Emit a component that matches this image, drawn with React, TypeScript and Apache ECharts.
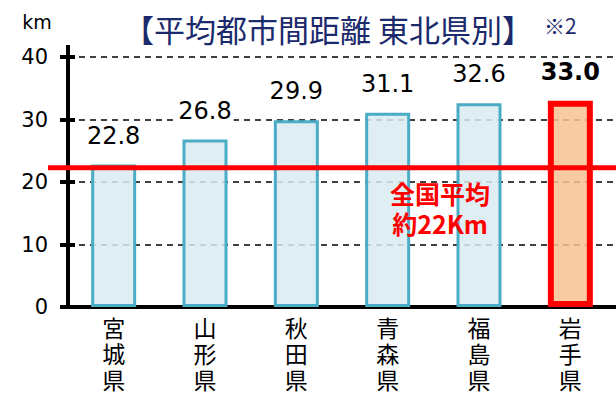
import React, { useEffect, useRef } from "react";
import * as echarts from "echarts";

const categories = ["宮城県", "山形県", "秋田県", "青森県", "福島県", "岩手県"];
const distances = [22.8, 26.8, 29.9, 31.1, 32.6, 33.0];
const highlightIndex = 5;
const nationalAverage = 22.3;
const yMin = 0;
const yMax = 40;
const yInterval = 10;
const titleText = "【平均都市間距離 東北県別】";
const noteText = "※2";
const unitText = "km";
const averageText = "全国平均\n約22Km";

const NUM_FONT = "'DejaVu Sans', sans-serif";
const JP_FONT = "'Noto Sans CJK JP', sans-serif";

export default function App() {
  const ref = useRef<HTMLDivElement>(null);

  useEffect(() => {
    if (!ref.current) return;
    const chart = echarts.init(ref.current, undefined, { renderer: "svg" });

    const barData = distances.map((v, i) => {
      if (i === highlightIndex) {
        return {
          value: v,
          itemStyle: {
            color: "rgba(248,194,147,0.85)",
            borderColor: "#FF0000",
            borderWidth: 6,
          },
          label: { fontWeight: "bold" as const },
        };
      }
      return v;
    });

    const yCommon = {
      type: "value" as const,
      min: yMin,
      max: yMax,
      interval: yInterval,
      position: "left" as const,
    };

    chart.setOption({
      animation: false,
      grid: { left: 68, top: 57, width: 558, height: 250, containLabel: false },
      xAxis: {
        type: "category",
        data: categories,
        axisLine: { show: true, lineStyle: { color: "#000", width: 4 } },
        axisTick: { show: false },
        axisLabel: {
          interval: 0,
          margin: 7,
          color: "#000",
          fontSize: 23,
          lineHeight: 26,
          fontFamily: JP_FONT,
          formatter: (s: string) => s.split("").join("\n"),
        },
      },
      yAxis: [
        {
          ...yCommon,
          axisLine: { show: true, lineStyle: { color: "#000", width: 4 } },
          axisTick: { show: true, inside: false, length: 8, lineStyle: { color: "#000", width: 4 } },
          axisLabel: { color: "#000", fontSize: 21, margin: 20, fontFamily: NUM_FONT },
          splitLine: {
            show: true,
            lineStyle: { color: "#000", width: 1.6, type: [6, 5] },
          },
        },
        {
          ...yCommon,
          axisLine: { show: false },
          axisTick: { show: true, inside: true, length: 7, lineStyle: { color: "#000", width: 4 } },
          axisLabel: { show: false },
          splitLine: { show: false },
        },
      ],
      series: [
        {
          type: "bar",
          data: barData,
          barWidth: 45,
          itemStyle: {
            color: "rgba(216,235,241,0.85)",
            borderColor: "#4BACC6",
            borderWidth: 3,
          },
          label: {
            show: true,
            position: "top",
            distance: 17,
            color: "#000",
            fontSize: 24,
            fontFamily: NUM_FONT,
            backgroundColor: "#fff",
            padding: [0, 2],
            formatter: (p: any) => Number(p.value).toFixed(1),
          },
        },
      ],
    });

    const yAvg = chart.convertToPixel({ yAxisIndex: 0 }, nationalAverage) as number;
    const yTop = chart.convertToPixel({ yAxisIndex: 0 }, yMax) as number;
    const xAxisPix = 68;

    chart.setOption({
      graphic: [
        {
          type: "line",
          z: 100,
          shape: { x1: xAxisPix, y1: yTop - 12, x2: xAxisPix, y2: yTop },
          style: { stroke: "#000", lineWidth: 4 },
        },
        {
          type: "line",
          z: 100,
          shape: { x1: 48, y1: yAvg, x2: 616, y2: yAvg },
          style: { stroke: "#FF0000", lineWidth: 5 },
        },
        {
          type: "text",
          z: 101,
          x: 440,
          y: 208,
          style: {
            text: averageText,
            fill: "#FF0000",
            font: `bold 25px ${JP_FONT}`,
            lineHeight: 30,
            align: "center",
            verticalAlign: "middle",
          },
        },
        {
          type: "text",
          x: 328,
          y: 28,
          style: {
            text: titleText,
            fill: "#1a2a6c",
            font: `31px ${JP_FONT}`,
            align: "center",
            verticalAlign: "middle",
          },
        },
        {
          type: "text",
          x: 544,
          y: 25,
          style: {
            text: noteText,
            fill: "#1a2a6c",
            font: `21px ${JP_FONT}`,
            align: "left",
            verticalAlign: "middle",
          },
        },
        {
          type: "text",
          x: 37,
          y: 22,
          style: {
            text: unitText,
            fill: "#000",
            font: `19px ${NUM_FONT}`,
            align: "center",
            verticalAlign: "middle",
          },
        },
      ],
    });

    return () => chart.dispose();
  }, []);

  return <div ref={ref} style={{ width: 616, height: 393, position: "absolute", left: 0, top: 0 }} />;
}
